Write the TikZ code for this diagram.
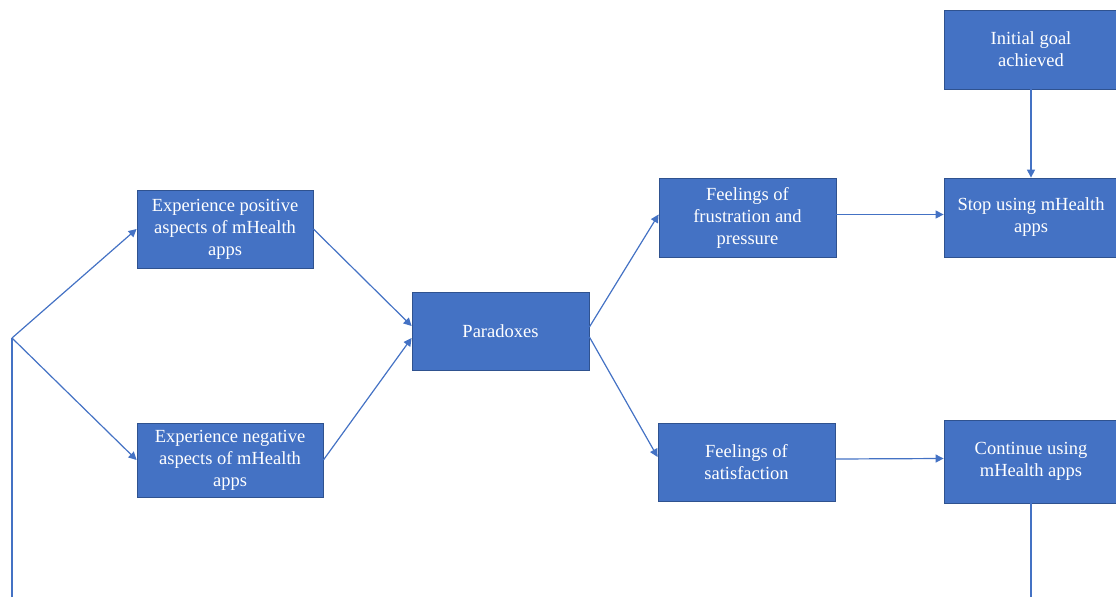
\documentclass[tikz,border=0pt]{standalone}
\usepackage{fontspec}
\setmainfont{Liberation Serif}
\usetikzlibrary{arrows.meta}

\definecolor{boxblue}{HTML}{4472C4}
\definecolor{boxedge}{HTML}{2F528F}

\tikzset{
	blk/.style={ draw=boxedge, fill=boxblue, text=white, align=center, inner sep=0pt, line width=0.8pt, font=\fontsize{18.5}{22}\selectfont },
	link/.style={ draw=boxblue, line width=1.2pt, -{Triangle[ length=8pt, width=8pt ]} },
	plain/.style={ draw=boxblue, line width=1.2pt },
}

\begin{document}
\begin{tikzpicture}[ x=1pt, y=-1pt ]

	\useasboundingbox (0, 0) rectangle (1116, 597);

	\def\wblk{177}
	\def\hblk{78}

	% left part
	\node[ blk, minimum width=176pt, minimum height=\hblk pt ] (pos) at (225, 229) {Experience positive\\aspects of mHealth\\apps};
	\node[ blk, minimum width=186pt, minimum height=74pt ] (neg) at (230, 460) {Experience negative\\aspects of mHealth\\apps};
	\node[ blk, minimum width=\wblk pt, minimum height=\hblk pt ] (para) at (500.5, 331) {Paradoxes};

	% feelings
	\node[ blk, minimum width=\wblk pt, minimum height=79pt ] (frus) at (747.5, 217.5) {Feelings of\\frustration and\\pressure};
	\node[ blk, minimum width=\wblk pt, minimum height=\hblk pt ] (sat) at (746.5, 462) {Feelings of\\satisfaction};

	% outcomes
	\node[ blk, minimum width=174pt, minimum height=79pt ] (goal) at (1031, 49.5) {Initial goal\\achieved};
	\node[ blk, minimum width=174pt, minimum height=79pt ] (stop) at (1031, 217.5) {Stop using mHealth\\apps};
	\node[ blk, minimum width=174pt, minimum height=83pt ] (cont) at (1031, 461.5) {Continue using\\mHealth apps};

	\coordinate (split) at (12, 338);
	\coordinate (botl) at (12, 597);
	\coordinate (botr) at (1031, 597);

	\draw[ plain ] (botl) -- (split);
	\draw[ link ] (split) -- (pos.west);
	\draw[ link ] (split) -- (neg.west);

	\draw[ link ] (pos.east) -- ([yshift=5pt]para.west);
	\draw[ link ] (neg.east) -- ([yshift=-7pt]para.west);

	\draw[ link ] ([yshift=4pt]para.east) -- ([yshift=3pt]frus.west);
	\draw[ link ] ([yshift=-6pt]para.east) -- ([yshift=5pt]sat.west);

	\draw[ link ] ([yshift=3pt]frus.east) -- ([yshift=3pt]stop.west);
	\draw[ link ] ([yshift=3pt]sat.east) -- ([yshift=3pt]cont.west);

	\draw[ link ] (goal.south) -- (stop.north);
	\draw[ plain ] (cont.south) -- (botr);

\end{tikzpicture}
\end{document}
